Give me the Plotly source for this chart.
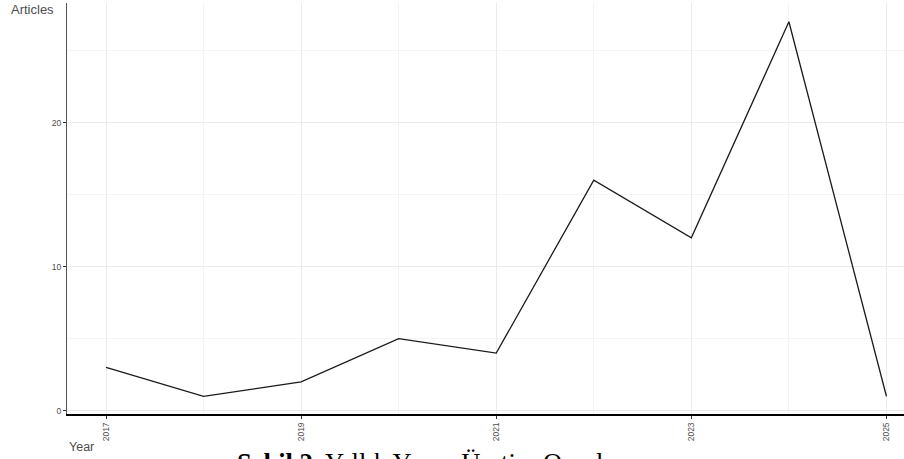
import plotly.graph_objects as go

years = [2017, 2018, 2019, 2020, 2021, 2022, 2023, 2024, 2025]
articles = [3, 1, 2, 5, 4, 16, 12, 27, 1]
x_ticks = [2017, 2019, 2021, 2023, 2025]
y_ticks = [0, 10, 20]

W, H = 904, 459
L, R, T, B = 67, 0, 3, 45
ph = H - T - B

def py2paper(py):
    return (H - B - py) / ph

def px2paper(px):
    return (px - L) / (W - L - R)

fig = go.Figure()
fig.add_trace(go.Scatter(
    x=years, y=articles, mode="lines",
    line=dict(color="#1a1a1a", width=1.3),
    hoverinfo="x+y", showlegend=False,
))

grid = "#ebebeb"
fig.update_layout(
    width=W, height=H,
    margin=dict(l=L, r=R, t=T, b=B),
    plot_bgcolor="white", paper_bgcolor="white",
    font=dict(family="Liberation Sans, Arial, sans-serif", color="#4d4d4d"),
    xaxis=dict(
        range=[2016.6, 2025.18], tickvals=x_ticks, ticktext=[str(v) for v in x_ticks],
        tickangle=-90, tickfont=dict(size=8.5, color="#4d4d4d"),
        showgrid=True, gridcolor=grid, gridwidth=1,
        minor=dict(dtick=1, tick0=2018, showgrid=True, gridcolor="#f4f4f4", gridwidth=0.6),
        showline=True, linecolor="black", linewidth=2,
        ticks="outside", ticklen=3, tickcolor="#333333", zeroline=False,
    ),
    yaxis=dict(
        range=[-0.23, 28.3], tickvals=y_ticks,
        tickfont=dict(size=8.5, color="#4d4d4d"),
        showgrid=True, gridcolor=grid, gridwidth=1,
        minor=dict(dtick=10, tick0=5, showgrid=True, gridcolor="#f4f4f4", gridwidth=0.6),
        showline=True, linecolor="#555555", linewidth=1,
        ticks="outside", ticklen=3, tickcolor="#333333", zeroline=False,
    ),
    annotations=[
        dict(text="Articles", xref="paper", yref="paper", x=px2paper(9), y=py2paper(10),
             xanchor="left", yanchor="middle", showarrow=False,
             font=dict(size=13, color="#4d4d4d")),
        dict(text="Year", xref="paper", yref="paper", x=px2paper(67), y=py2paper(447),
             xanchor="left", yanchor="middle", showarrow=False,
             font=dict(size=12.5, color="#4d4d4d")),
        dict(text="<b>Şekil 2.</b> Yıllık Yayın Üretim Oranları", xref="paper", yref="paper",
             x=px2paper(235), y=py2paper(445.5), xanchor="left", yanchor="top",
             showarrow=False,
             font=dict(family="Liberation Serif, Times New Roman, serif", size=26.5, color="black")),
    ],
)

fig.write_html("out.html", config={"displayModeBar": False},
               post_script="document.body.style.margin='0';")
